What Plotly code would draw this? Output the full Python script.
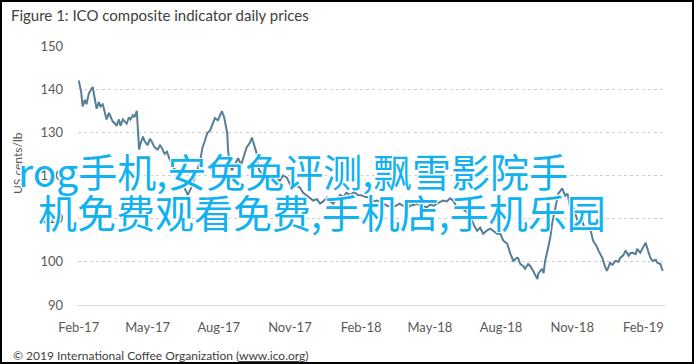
import plotly.graph_objects as go

dates = [
 "2017-02-01","2017-02-04","2017-02-06","2017-02-09","2017-02-11","2017-02-14","2017-02-17","2017-02-19","2017-02-22","2017-02-24",
 "2017-02-27","2017-03-01","2017-03-04","2017-03-07","2017-03-09","2017-03-12","2017-03-14","2017-03-17","2017-03-20","2017-03-22",
 "2017-03-25","2017-03-27","2017-03-30","2017-04-02","2017-04-04","2017-04-07","2017-04-09","2017-04-12","2017-04-14","2017-04-17",
 "2017-04-20","2017-04-22","2017-04-25","2017-04-27","2017-05-01","2017-05-04","2017-05-06","2017-05-10","2017-05-14","2017-05-17",
 "2017-05-19","2017-05-23","2017-05-26","2017-05-30","2017-06-03","2017-06-07","2017-06-10","2017-06-14","2017-06-18","2017-06-22",
 "2017-06-26","2017-06-30","2017-07-04","2017-07-08","2017-07-11","2017-07-14","2017-07-17","2017-07-21","2017-07-24","2017-07-27",
 "2017-07-31","2017-08-02","2017-08-05","2017-08-08","2017-08-12","2017-08-13","2017-08-15","2017-08-18","2017-08-22","2017-08-26",
 "2017-08-30","2017-09-03","2017-09-06","2017-09-10","2017-09-13","2017-09-14","2017-09-17","2017-09-19","2017-09-21","2017-09-23",
 "2017-09-26","2017-09-30","2017-10-02","2017-10-06","2017-10-10","2017-10-15","2017-10-19","2017-10-23","2017-10-28","2017-11-01",
 "2017-11-05","2017-11-10","2017-11-14","2017-11-18","2017-11-22","2017-11-27","2017-12-01","2017-12-06","2017-12-10","2017-12-14",
 "2017-12-19","2017-12-23","2017-12-27","2017-12-31","2018-01-05","2018-01-09","2018-01-13","2018-01-18","2018-01-23","2018-01-28",
 "2018-02-02","2018-02-07","2018-02-13","2018-02-17","2018-02-22","2018-02-26","2018-03-01","2018-03-07","2018-03-11","2018-03-14",
 "2018-03-20","2018-03-23","2018-03-29","2018-04-02","2018-04-05","2018-04-11","2018-04-14","2018-04-18","2018-04-24","2018-04-27",
 "2018-05-01","2018-05-06","2018-05-10","2018-05-14","2018-05-18","2018-05-23","2018-05-27","2018-05-31","2018-06-05","2018-06-09",
 "2018-06-13","2018-06-18","2018-06-22","2018-06-27","2018-07-01","2018-07-05","2018-07-09","2018-07-14","2018-07-18","2018-07-23",
 "2018-07-27","2018-07-31","2018-08-04","2018-08-09","2018-08-13","2018-08-17","2018-08-21","2018-08-23","2018-08-26","2018-08-30",
 "2018-09-01","2018-09-05","2018-09-08","2018-09-10","2018-09-14","2018-09-17","2018-09-18","2018-09-21","2018-09-23","2018-09-25",
 "2018-09-27","2018-10-01","2018-10-04","2018-10-06","2018-10-10","2018-10-14","2018-10-17","2018-10-19","2018-10-23","2018-10-26",
 "2018-10-30","2018-11-01","2018-11-05","2018-11-09","2018-11-14","2018-11-18","2018-11-22","2018-11-24","2018-11-28","2018-12-02",
 "2018-12-05","2018-12-10","2018-12-14","2018-12-16","2018-12-20","2018-12-23","2018-12-27","2018-12-31","2019-01-02","2019-01-06",
 "2019-01-09","2019-01-13","2019-01-15","2019-01-18","2019-01-22","2019-01-24","2019-01-28","2019-02-01","2019-02-04","2019-02-07",
 "2019-02-10","2019-02-13","2019-02-17","2019-02-19","2019-02-23","2019-02-26",
]

prices = [
 142.0,139.5,136.0,137.5,136.5,139.0,140.0,140.5,137.5,135.5,
 137.0,136.0,136.5,134.0,133.0,134.5,133.5,132.5,132.0,131.5,
 133.0,131.5,133.0,132.5,132.0,133.5,133.0,134.0,133.5,135.0,
 126.0,127.5,129.0,128.0,127.0,128.5,128.0,126.5,126.0,127.0,
 126.5,125.0,125.5,123.5,122.0,121.0,119.5,118.5,117.0,115.5,
 117.0,119.0,121.0,123.5,126.5,128.0,129.8,130.5,132.0,133.3,
 132.8,133.8,134.9,133.5,129.8,125.8,123.0,121.2,122.5,124.0,
 122.5,124.5,126.5,127.5,128.8,128.1,126.0,125.1,121.9,121.0,
 120.5,121.0,119.5,120.0,119.0,119.5,118.8,120.0,119.5,118.0,
 118.5,117.5,117.2,116.0,115.5,114.8,114.2,114.5,113.5,114.0,
 114.9,114.0,113.5,114.5,115.5,115.0,116.0,115.5,116.2,115.5,
 115.4,115.0,114.9,114.0,114.2,113.8,113.5,113.0,112.8,112.6,
 113.2,113.5,112.8,112.3,113.0,113.2,113.5,113.0,112.8,112.6,
 113.2,113.0,113.5,113.8,114.2,114.0,114.7,114.2,112.6,112.8,
 112.3,111.5,110.7,108.5,107.2,107.9,106.5,107.3,107.7,107.0,
 106.5,106.5,104.9,104.2,101.9,100.2,100.9,100.9,99.5,99.0,
 98.4,99.5,99.0,98.4,97.0,96.0,97.2,97.8,98.4,97.4,
 100.2,103.3,106.0,108.8,112.6,115.8,116.5,117.0,115.3,115.8,
 111.9,113.5,111.2,108.8,109.5,107.2,108.2,107.9,104.9,103.8,
 102.6,100.9,98.6,97.9,99.8,99.3,100.2,100.0,100.9,101.5,
 102.6,101.4,102.0,102.1,101.8,103.0,102.1,103.5,104.4,102.6,
 101.0,100.2,100.5,99.8,99.5,97.9,
]

tick_dates = ["2017-02-01","2017-05-01","2017-08-01","2017-11-01","2018-02-01",
              "2018-05-01","2018-08-01","2018-11-01","2019-02-01"]
tick_labels = ["Feb-17","May-17","Aug-17","Nov-17","Feb-18","May-18","Aug-18","Nov-18","Feb-19"]
y_ticks = [90, 100, 110, 120, 130, 140, 150]

title_text = "Figure 1: ICO composite indicator daily prices"
y_title = "US cents/lb"
footer = "© 2019 International Coffee Organization (<u>www.ico.org</u>)"
overlay1 = "rog手机,安兔兔评测,飘雪影院手"
overlay2 = "机免费观看免费,手机店,手机乐园"

W, H = 695, 364
ML, MR, MT, MB = 78, 30, 46, 59
PW, PH = W - ML - MR, H - MT - MB

def px(x):
    return (x - ML) / PW

def py(y):
    return (H - MB - y) / PH

fig = go.Figure()
fig.add_trace(go.Scatter(x=dates, y=prices, mode="lines",
                         line=dict(color="#557f96", width=2), hoverinfo="skip"))

axis_font = dict(family="Lato, Carlito, sans-serif", size=13, color="#595959")
fig.update_layout(
    width=W, height=H, margin=dict(l=ML, r=MR, t=MT, b=MB),
    paper_bgcolor="white", plot_bgcolor="white", showlegend=False,
    xaxis=dict(type="date", range=["2017-01-31", "2019-03-01"], tickvals=tick_dates,
               ticktext=tick_labels, showgrid=False, zeroline=False, showline=True,
               linecolor="#d9d9d9", linewidth=1, ticks="", tickfont=axis_font,
               ticklabelstandoff=10),
    yaxis=dict(range=[90, 150], tickvals=y_ticks, showgrid=True, gridcolor="#cfcfcf",
               griddash="dot", gridwidth=1, zeroline=False, showline=False, ticks="",
               tickfont=axis_font, ticklabelstandoff=14),
)

overlay_font = dict(family="Noto Sans CJK SC", size=39, color="#12b1f0",
                    shadow="1px 1px 0 #fff, -1px -1px 0 #fff, 1px -1px 0 #fff, -1px 1px 0 #fff")
annotations = [
    dict(text=title_text, x=px(9), y=py(15), xanchor="left", yanchor="middle",
         font=dict(family="Lato, sans-serif", size=15, color="#404040")),
    dict(text=y_title, x=px(17), y=py(163), textangle=-90, xanchor="center", yanchor="middle",
         font=dict(family="Lato, sans-serif", size=12, color="#595959")),
    dict(text=footer, x=px(11), y=py(355), xanchor="left", yanchor="middle",
         font=dict(family="Lato, sans-serif", size=12, color="#404040")),
    dict(text=overlay1, x=px(16), y=py(170), xanchor="left", yanchor="middle",
         font=overlay_font),
    dict(text=overlay2, x=px(36), y=py(211), xanchor="left", yanchor="middle",
         font=overlay_font),
]
for a in annotations:
    a.update(xref="paper", yref="paper", showarrow=False)
fig.update_layout(annotations=annotations)

fig.add_shape(type="rect", xref="paper", yref="paper",
              x0=px(1), x1=px(693), y0=py(363), y1=py(1),
              line=dict(color="black", width=2), fillcolor="rgba(0,0,0,0)", layer="above")

fig.write_html("out.html")
